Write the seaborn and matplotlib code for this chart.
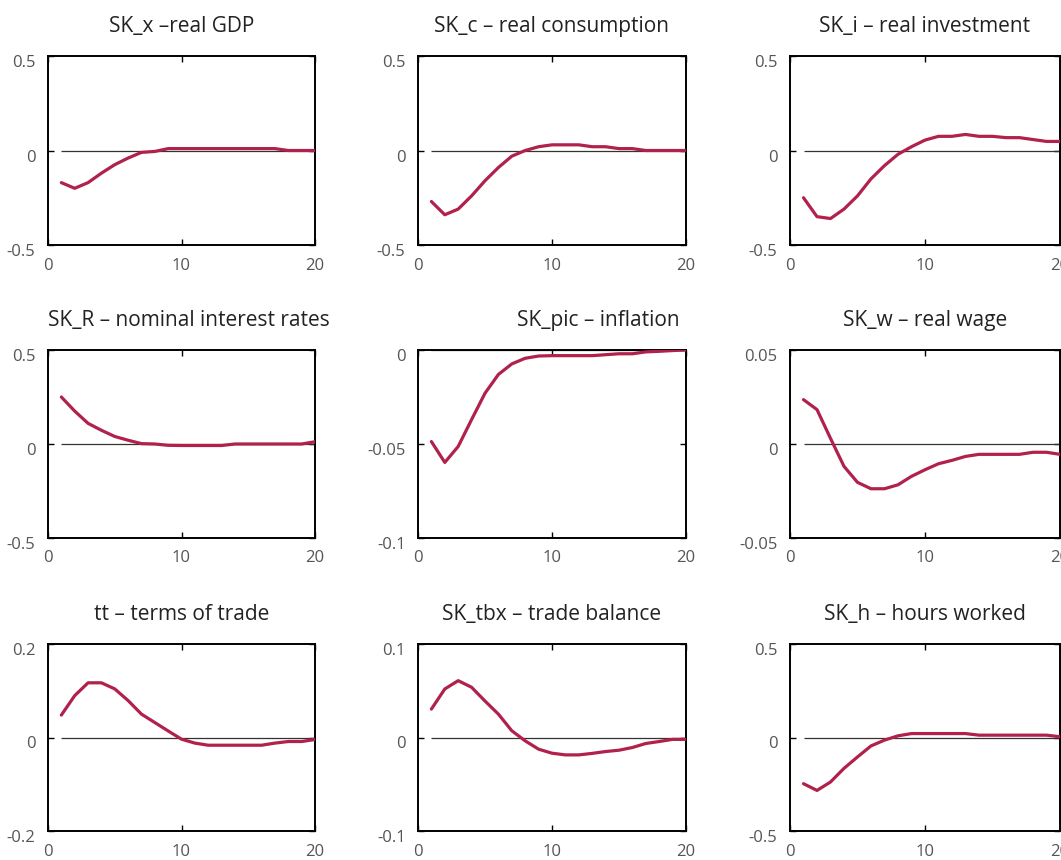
import numpy as np
import pandas as pd
import matplotlib
matplotlib.use("Agg")
import matplotlib.pyplot as plt
import matplotlib.transforms as mtransforms
import seaborn as sns

# impulse responses, periods 1..20
periods = list(range(1, 21))

real_gdp = [-0.17, -0.20, -0.17, -0.12, -0.075, -0.04, -0.01, -0.005, 0.01, 0.01,
            0.01, 0.01, 0.01, 0.01, 0.01, 0.01, 0.01, 0.0, 0.0, 0.0]
real_consumption = [-0.27, -0.34, -0.31, -0.24, -0.16, -0.09, -0.03, 0.0, 0.02, 0.03,
                    0.03, 0.03, 0.02, 0.02, 0.01, 0.01, 0.0, 0.0, 0.0, 0.0]
real_investment = [-0.25, -0.35, -0.36, -0.31, -0.24, -0.15, -0.08, -0.02, 0.02, 0.055,
                   0.075, 0.075, 0.085, 0.075, 0.075, 0.068, 0.068, 0.058, 0.048, 0.048]
nominal_rates = [0.25, 0.175, 0.11, 0.073, 0.04, 0.02, 0.002, 0.0, -0.007, -0.008,
                 -0.008, -0.008, -0.008, 0.0, 0.0, 0.0, 0.0, 0.0, 0.0, 0.012]
inflation = [-0.0487, -0.0598, -0.0513, -0.037, -0.023, -0.013, -0.0074, -0.0044, -0.0032, -0.003,
             -0.003, -0.003, -0.003, -0.0025, -0.002, -0.002, -0.001, -0.0007, -0.0003, 0.0]
real_wage = [0.0236, 0.0183, 0.003, -0.0119, -0.0204, -0.0238, -0.0238, -0.0217, -0.0172, -0.0137,
             -0.0105, -0.0087, -0.0066, -0.0055, -0.0055, -0.0055, -0.0055, -0.0044, -0.0044, -0.0055]
terms_of_trade = [0.048, 0.0895, 0.117, 0.117, 0.104, 0.079, 0.05, 0.032, 0.014, -0.0036,
                  -0.012, -0.0165, -0.0165, -0.0165, -0.0165, -0.0165, -0.012, -0.0086, -0.0086, -0.0043]
trade_balance = [0.0304, 0.0519, 0.0608, 0.0537, 0.039, 0.025, 0.0072, -0.0036, -0.0125, -0.0168,
                 -0.0186, -0.0186, -0.017, -0.015, -0.0136, -0.0107, -0.0064, -0.0043, -0.002, -0.002]
hours_worked = [-0.247, -0.283, -0.238, -0.165, -0.104, -0.045, -0.014, 0.009, 0.021, 0.021,
                0.021, 0.021, 0.021, 0.0125, 0.0125, 0.0125, 0.0125, 0.0125, 0.0125, 0.004]

titles = ["SK_x \u2013real GDP", "SK_c \u2013 real consumption", "SK_i \u2013 real investment",
          "SK_R \u2013 nominal interest rates", "SK_pic \u2013 inflation", "SK_w \u2013 real wage",
          "tt \u2013 terms of trade", "SK_tbx \u2013 trade balance", "SK_h \u2013 hours worked"]
title_locs = ["center", "center", "center", "left", "right", "center", "center", "center", "center"]
series = [real_gdp, real_consumption, real_investment, nominal_rates, inflation,
          real_wage, terms_of_trade, trade_balance, hours_worked]

y_ticks = [[-0.5, 0, 0.5], [-0.5, 0, 0.5], [-0.5, 0, 0.5],
           [-0.5, 0, 0.5], [-0.1, -0.05, 0], [-0.05, 0, 0.05],
           [-0.2, 0, 0.2], [-0.1, 0, 0.1], [-0.5, 0, 0.5]]
y_ticklabels = [["-0.5", "0", "0.5"], ["-0.5", "0", "0.5"], ["-0.5", "0", "0.5"],
                ["-0.5", "0", "0.5"], ["-0.1", "-0.05", "0"], ["-0.05", "0", "0.05"],
                ["-0.2", "0", "0.2"], ["-0.1", "0", "0.1"], ["-0.5", "0", "0.5"]]
x_ticks = [0, 10, 20]
x_ticklabels = ["0", "10", "20"]

sns.set_style("ticks")
plt.rcParams["font.family"] = ["Open Sans", "DejaVu Sans"]

line_color = "#B0214B"
W, H = 1061, 860
fig = plt.figure(figsize=(W / 100, H / 100), dpi=100)

col_left = [48, 418, 790]
col_width = [267, 268, 270]
row_top = [56, 350, 644]
row_height = [189, 188, 187]

for i, vals in enumerate(series):
    r, c = divmod(i, 3)
    rect = [col_left[c] / W, 1 - (row_top[r] + row_height[r]) / H,
            col_width[c] / W, row_height[r] / H]
    ax = fig.add_axes(rect)
    df = pd.DataFrame({"period": periods, "value": vals})
    ax.hlines(0, periods[0], periods[-1], color="#333333", lw=0.9, zorder=1)
    sns.lineplot(data=df, x="period", y="value", ax=ax, color=line_color, lw=2.3, zorder=3)

    ax.set_xlim(x_ticks[0], x_ticks[-1])
    ax.set_ylim(y_ticks[i][0], y_ticks[i][-1])
    ax.set_xticks(x_ticks)
    ax.set_xticklabels(x_ticklabels)
    ax.set_yticks(y_ticks[i])
    ax.set_yticklabels(y_ticklabels[i])
    ax.set_xlabel("")
    ax.set_ylabel("")
    ax.tick_params(direction="in", length=4, width=1, top=True, right=True,
                   labelsize=12, labelcolor="#555555", color="black", pad=9)
    for sp in ax.spines.values():
        sp.set_visible(True)
        sp.set_color("black")
        sp.set_linewidth(1.4)
    offset = mtransforms.ScaledTranslation(0, -5 / 100, fig.dpi_scale_trans)
    for lab in ax.get_yticklabels():
        lab.set_transform(lab.get_transform() + offset)

    t = ax.set_title(titles[i], loc=title_locs[i], fontsize=15, color="#222222", pad=17)
    if title_locs[i] == "right":
        t.set_x(0.975)

fig.savefig("out.png", dpi=100)
